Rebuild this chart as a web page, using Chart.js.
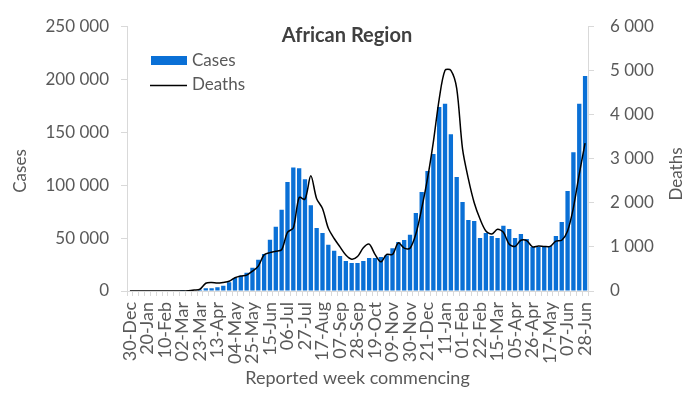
<!DOCTYPE html>
<html>
<head>
<meta charset="utf-8">
<script src="https://cdn.jsdelivr.net/npm/chart.js@4/dist/chart.umd.min.js"></script>
<style>
  html, body { margin: 0; padding: 0; background: #fff; }
</style>
</head>
<body>
<canvas id="chart" width="696" height="393"></canvas>
<script>
const TITLE = "African Region";

// week commencing, 30 Dec 2019 .. 28 Jun 2021
const WEEKS = [
  "30-Dec", "06-Jan", "13-Jan", "20-Jan", "27-Jan", "03-Feb", "10-Feb", "17-Feb", "24-Feb", "02-Mar",
  "09-Mar", "16-Mar", "23-Mar", "30-Mar", "06-Apr", "13-Apr", "20-Apr", "27-Apr", "04-May", "11-May",
  "18-May", "25-May", "01-Jun", "08-Jun", "15-Jun", "22-Jun", "29-Jun", "06-Jul", "13-Jul", "20-Jul",
  "27-Jul", "03-Aug", "10-Aug", "17-Aug", "24-Aug", "31-Aug", "07-Sep", "14-Sep", "21-Sep", "28-Sep",
  "05-Oct", "12-Oct", "19-Oct", "26-Oct", "02-Nov", "09-Nov", "16-Nov", "23-Nov", "30-Nov", "07-Dec",
  "14-Dec", "21-Dec", "28-Dec", "04-Jan", "11-Jan", "18-Jan", "25-Jan", "01-Feb", "08-Feb", "15-Feb",
  "22-Feb", "01-Mar", "08-Mar", "15-Mar", "22-Mar", "29-Mar", "05-Apr", "12-Apr", "19-Apr", "26-Apr",
  "03-May", "10-May", "17-May", "24-May", "31-May", "07-Jun", "14-Jun", "21-Jun", "28-Jun"
];

const CASES = [
  0, 0, 0, 0, 0, 0, 0, 0, 0, 30,
  150, 500, 1200, 2500, 2500, 3500, 5000, 8200, 12300, 14400,
  17300, 22000, 29500, 35000, 48400, 60700, 76700, 103000, 116600, 116000,
  105500, 81000, 59500, 54700, 43700, 38100, 33000, 28300, 26400, 26400,
  28300, 31100, 31100, 32100, 33700, 40300, 46200, 48100, 53100, 73600,
  93400, 113200, 129300, 173600, 176700, 148100, 107600, 84000, 67000, 66000,
  50000, 54700, 51900, 50000, 61600, 58500, 50000, 53800, 49100, 41500,
  41500, 41500, 42500, 51900, 65100, 94300, 131100, 176700, 203100
];

const DEATHS = [
  0, 0, 0, 0, 0, 0, 0, 0, 0, 0,
  5, 20, 40, 175, 190, 180, 195, 220, 300, 340,
  360, 450, 565, 820, 870, 900, 935, 1330, 1430, 2120,
  2080, 2610, 2090, 1870, 1420, 1190, 1000, 815, 720, 780,
  980, 1060, 830, 660, 830, 830, 1090, 970, 970, 1290,
  1870, 2550, 3380, 4350, 5000, 5000, 4590, 3220, 2540, 2000,
  1630, 1360, 1290, 1400, 1330, 1060, 1010, 1150, 1140, 1000,
  1020, 1010, 1010, 1130, 1150, 1360, 1890, 2650, 3350
];

const BLUE = "#0A70D6";
const TEXT = "#595959";
const AXIS = "#D9D9D9";

// thousands with a space, like "250 000"
function fmt(v) {
  return String(v).replace(/\B(?=(\d{3})+(?!\d))/g, " ");
}

// title, legend and the two y-axis titles sit where Excel put them
const overlay = {
  id: "overlay",
  afterDraw(chart) {
    const ctx = chart.ctx;
    const [bars, line] = chart.data.datasets;
    ctx.save();
    ctx.textBaseline = "alphabetic";

    ctx.fillStyle = "#404040";
    ctx.font = "bold 20px Lato";
    ctx.textAlign = "center";
    ctx.fillText(TITLE, 347, 41.5);

    ctx.fillStyle = bars.backgroundColor;
    ctx.fillRect(151, 56, 36, 9);
    ctx.strokeStyle = line.borderColor;
    ctx.lineWidth = 1.5;
    ctx.beginPath();
    ctx.moveTo(150, 85.5);
    ctx.lineTo(187, 85.5);
    ctx.stroke();

    ctx.fillStyle = TEXT;
    ctx.font = "17px Lato";
    ctx.textAlign = "left";
    ctx.fillText(bars.label, 192, 66);
    ctx.fillText(line.label, 192, 90);

    ctx.textAlign = "center";
    ctx.save();
    ctx.translate(26, 171);
    ctx.rotate(-Math.PI / 2);
    ctx.fillText("Cases", 0, 0);
    ctx.restore();
    ctx.save();
    ctx.translate(681.5, 174);
    ctx.rotate(-Math.PI / 2);
    ctx.fillText("Deaths", 0, 0);
    ctx.restore();

    ctx.restore();
  }
};

Chart.defaults.font.family = "Lato";
Chart.defaults.color = TEXT;

new Chart(document.getElementById("chart"), {
  type: "bar",
  data: {
    labels: WEEKS,
    datasets: [
      {
        type: "bar",
        label: "Cases",
        data: CASES,
        backgroundColor: BLUE,
        barPercentage: 0.74,
        categoryPercentage: 1.0,
        yAxisID: "y",
        order: 1
      },
      {
        type: "line",
        label: "Deaths",
        data: DEATHS,
        borderColor: "#000000",
        borderWidth: 1.5,
        pointRadius: 0,
        tension: 0.3,
        yAxisID: "y1",
        order: 0
      }
    ]
  },
  options: {
    responsive: false,
    animation: false,
    layout: { padding: { top: 26, left: 0, right: 0, bottom: 0 } },
    plugins: {
      legend: { display: false },
      tooltip: { enabled: false }
    },
    scales: {
      x: {
        grid: { display: true, drawOnChartArea: false, drawTicks: true, tickLength: 5, color: AXIS },
        border: { display: true, color: AXIS },
        ticks: {
          autoSkip: false,
          minRotation: 90,
          maxRotation: 90,
          padding: 6,
          font: { size: 18 },
          callback: function (v, i) { return i % 3 === 0 ? WEEKS[i] : ""; }
        },
        title: {
          display: true,
          text: "Reported week commencing",
          font: { size: 18 },
          padding: { top: 0, bottom: 4 }
        },
        afterFit: (s) => { s.height = 102; }
      },
      y: {
        position: "left",
        min: 0,
        max: 250000,
        grid: { display: true, drawOnChartArea: false, drawTicks: true, tickLength: 6, color: AXIS },
        border: { display: true, color: AXIS },
        ticks: { stepSize: 50000, padding: 12, font: { size: 17 }, callback: (v) => fmt(v) },
        afterFit: (s) => { s.width = 127; }
      },
      y1: {
        position: "right",
        min: 0,
        max: 6000,
        grid: { display: true, drawOnChartArea: false, drawTicks: true, tickLength: 6, color: AXIS },
        border: { display: true, color: AXIS },
        ticks: { stepSize: 1000, padding: 16, font: { size: 17 }, callback: (v) => fmt(v) },
        afterFit: (s) => { s.width = 108; }
      }
    }
  },
  plugins: [overlay]
});
</script>
</body>
</html>
